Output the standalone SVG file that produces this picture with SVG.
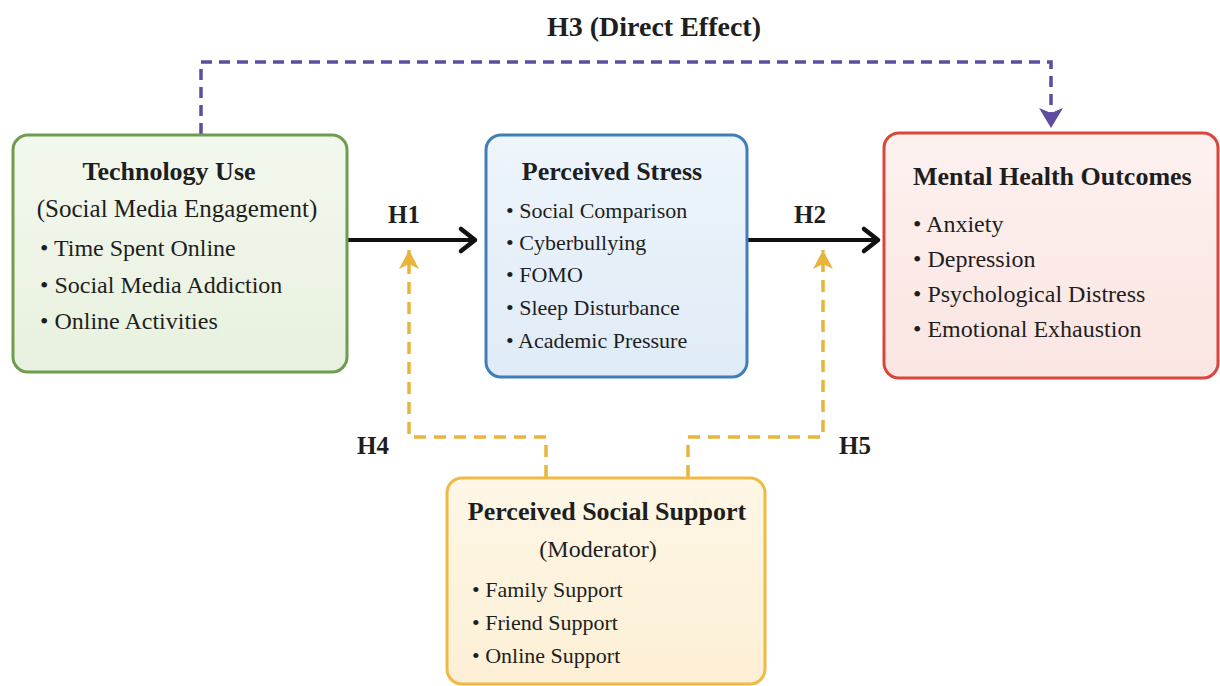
<svg xmlns="http://www.w3.org/2000/svg" width="1220" height="686" viewBox="0 0 1220 686">
<style>
text{font-family:"Liberation Serif","Times New Roman",serif;fill:#1e1e1e}
.t{font-weight:bold;font-size:26px}
.lbl{font-weight:bold;font-size:25px}
.box{stroke-width:3}
.solid{fill:none;stroke:#111;stroke-width:4}
.ydash{fill:none;stroke:#e9b43c;stroke-width:3.5;stroke-dasharray:12 8}
.pdash{fill:none;stroke:#5e4c9f;stroke-width:3.5;stroke-dasharray:11 7}
</style>
<defs>
<linearGradient id="gG" x1="0" y1="0" x2="0" y2="1"><stop offset="0" stop-color="#f3f8ee"/><stop offset="1" stop-color="#e8f1df"/></linearGradient>
<linearGradient id="gB" x1="0" y1="0" x2="0" y2="1"><stop offset="0" stop-color="#eef5fb"/><stop offset="1" stop-color="#dfebf7"/></linearGradient>
<linearGradient id="gR" x1="0" y1="0" x2="0" y2="1"><stop offset="0" stop-color="#fdf1ef"/><stop offset="1" stop-color="#fae5e2"/></linearGradient>
<linearGradient id="gY" x1="0" y1="0" x2="0" y2="1"><stop offset="0" stop-color="#fef7e6"/><stop offset="1" stop-color="#fcefd5"/></linearGradient>
<marker id="aBlack" markerUnits="userSpaceOnUse" markerWidth="26" markerHeight="30" refX="21" refY="15" orient="auto"><path d="M7,4 L21,15 L7,26" fill="none" stroke="#111" stroke-width="4.5" stroke-linecap="round" stroke-linejoin="round"/></marker>
<marker id="aYel" markerUnits="userSpaceOnUse" markerWidth="24" markerHeight="24" refX="21" refY="12" orient="auto"><path d="M21,12 L2,2 L7,12 L2,22 Z" fill="#e9b43c"/></marker>
<marker id="aPur" markerUnits="userSpaceOnUse" markerWidth="26" markerHeight="28" refX="22" refY="14" orient="auto"><path d="M22,14 L2,2 L7,14 L2,26 Z" fill="#5e4c9f"/></marker>
</defs>
<rect width="1220" height="686" fill="#ffffff"/>

<g id="connectors">
<path class="pdash" d="M201,134 V62 H1051 V128" marker-end="url(#aPur)"/>
<path class="solid" d="M347,240 H475" marker-end="url(#aBlack)"/>
<path class="solid" d="M747,240 H878" marker-end="url(#aBlack)"/>
<path class="ydash" d="M546,477 V437 H409 V250" marker-end="url(#aYel)"/>
<path class="ydash" d="M688,477 V437 H823 V250" marker-end="url(#aYel)"/>
<text class="lbl" x="654" y="36" text-anchor="middle" style="font-size:28px">H3 (Direct Effect)</text>
<text class="lbl" x="404" y="223" text-anchor="middle">H1</text>
<text class="lbl" x="810" y="223" text-anchor="middle">H2</text>
<text class="lbl" x="373" y="454" text-anchor="middle">H4</text>
<text class="lbl" x="855" y="454" text-anchor="middle">H5</text>
</g>

<g id="technology-use">
<rect class="box" x="13" y="135" width="334" height="237" rx="15" fill="url(#gG)" stroke="#6f9c4f"/>
<text class="t" x="169" y="180" text-anchor="middle">Technology Use</text>
<text x="177" y="217" text-anchor="middle" font-size="25">(Social Media Engagement)</text>
<text x="40" y="256" font-size="24">• Time Spent Online</text>
<text x="40" y="293" font-size="24">• Social Media Addiction</text>
<text x="40" y="329" font-size="24">• Online Activities</text>
</g>

<g id="perceived-stress">
<rect class="box" x="486" y="135" width="261" height="242" rx="15" fill="url(#gB)" stroke="#3f7fb8"/>
<text class="t" x="612" y="180" text-anchor="middle">Perceived Stress</text>
<text x="506" y="218" font-size="22">• Social Comparison</text>
<text x="506" y="250" font-size="22">• Cyberbullying</text>
<text x="506" y="282" font-size="22">• FOMO</text>
<text x="506" y="315" font-size="22">• Sleep Disturbance</text>
<text x="506" y="348" font-size="22">• Academic Pressure</text>
</g>

<g id="mental-health-outcomes">
<rect class="box" x="884" y="133" width="334" height="245" rx="15" fill="url(#gR)" stroke="#d9473b"/>
<text class="t" x="913" y="185">Mental Health Outcomes</text>
<text x="913" y="232" font-size="24">• Anxiety</text>
<text x="913" y="267" font-size="24">• Depression</text>
<text x="913" y="302" font-size="24">• Psychological Distress</text>
<text x="913" y="337" font-size="24">• Emotional Exhaustion</text>
</g>

<g id="perceived-social-support">
<rect class="box" x="447" y="478" width="318" height="206" rx="15" fill="url(#gY)" stroke="#f0ba42"/>
<text class="t" x="607" y="520" text-anchor="middle">Perceived Social Support</text>
<text x="598" y="557" text-anchor="middle" font-size="24">(Moderator)</text>
<text x="472" y="597" font-size="22">• Family Support</text>
<text x="472" y="630" font-size="22">• Friend Support</text>
<text x="472" y="663" font-size="22">• Online Support</text>
</g>
</svg>
